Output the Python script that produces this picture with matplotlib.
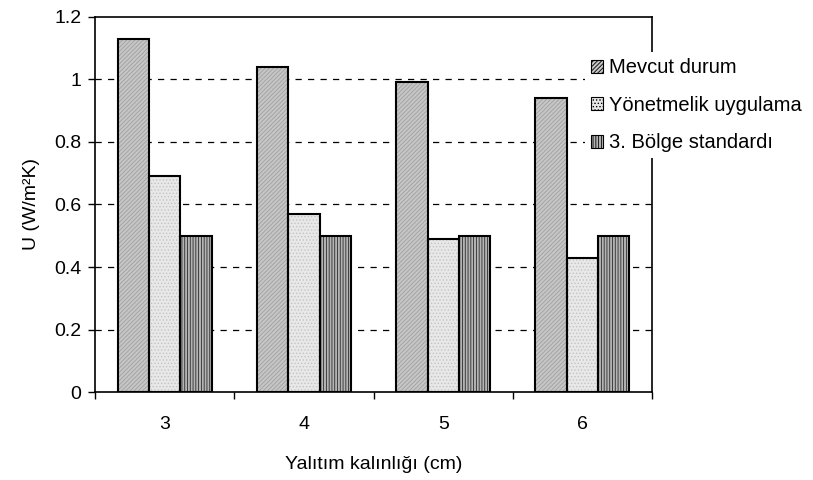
import numpy as np
import matplotlib.pyplot as plt
from matplotlib.patches import Patch

plt.rcParams['font.family'] = ['Liberation Sans', 'DejaVu Sans']
plt.rcParams['hatch.linewidth'] = 0.6

thickness = ['3', '4', '5', '6']
mevcut = [1.13, 1.04, 0.99, 0.94]
yonetmelik = [0.69, 0.57, 0.49, 0.43]
standart = [0.5, 0.5, 0.5, 0.5]
labels = ['Mevcut durum', 'Yönetmelik uygulama', '3. Bölge standardı']

# fill, hatch colour, hatch pattern
styles = [('#c6c6c6', '#a0a0a0', '////////'),
          ('#e8e8e8', '#c4c4c4', '.....'),
          ('#b4b4b4', '#2a2a2a', '||||||')]

fig = plt.figure(figsize=(8.13, 4.8), dpi=100)
ax = fig.add_axes([0.117, 0.183, 0.685, 0.782])

x = np.arange(len(thickness))
w = 0.225
series = [mevcut, yonetmelik, standart]
for i, vals in enumerate(series):
    pos = x + (i - 1) * w
    fc, hc, hatch = styles[i]
    ax.bar(pos, vals, w, color=fc, edgecolor=hc, hatch=hatch, linewidth=0, zorder=2)
    ax.bar(pos, vals, w, fill=False, edgecolor='black', linewidth=1.5, zorder=3)

ax.set_ylim(0, 1.2)
ax.set_xlim(-0.5, len(thickness) - 0.5)
ax.set_yticks(np.arange(0, 1.21, 0.2))
ax.set_yticklabels(['0', '0.2', '0.4', '0.6', '0.8', '1', '1.2'])
for yv in [0.2, 0.4, 0.6, 0.8, 1.0]:
    ax.axhline(yv, color='black', linestyle=(0, (5, 5)), linewidth=0.9, zorder=1)

ax.set_xticks(np.arange(-0.5, len(thickness), 1))
ax.set_xticklabels([])
ax.set_xticks(x, minor=True)
ax.set_xticklabels(thickness, minor=True)
ax.tick_params(axis='x', which='minor', length=0, pad=17, labelsize=14)
ax.tick_params(axis='x', which='major', direction='out', length=5, width=1)
ax.tick_params(axis='y', direction='out', length=5, width=1, labelsize=14, pad=5)

for s in ax.spines.values():
    s.set_linewidth(1.2)

ax.set_xlabel('Yalıtım kalınlığı (cm)', fontsize=14, labelpad=17)
ax.set_ylabel('U (W/m²K)', fontsize=14, labelpad=10)

handles = [Patch(facecolor=fc, edgecolor='black', hatch=h, linewidth=0.8) for fc, hc, h in styles]
leg = fig.legend(handles, labels, loc='upper left', bbox_to_anchor=(0.707, 0.912),
                 fontsize=14.5, frameon=True, facecolor='white', edgecolor='none',
                 fancybox=False, handlelength=0.6, handleheight=0.6,
                 handletextpad=0.3, labelspacing=0.92, borderpad=0.3)
leg.get_frame().set_alpha(1)
leg.set_zorder(10)

fig.savefig('out.png', dpi=100)
